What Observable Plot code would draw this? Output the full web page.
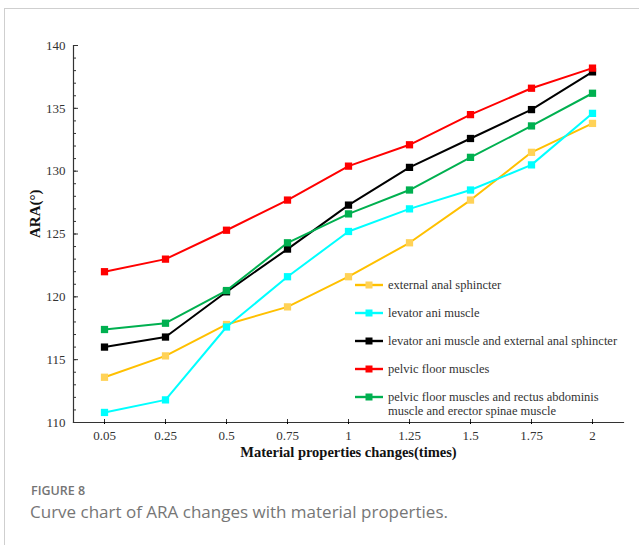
<!DOCTYPE html>
<html>
<head>
<meta charset="utf-8">
<script src="https://cdn.jsdelivr.net/npm/d3@7"></script>
<script src="https://cdn.jsdelivr.net/npm/@observablehq/plot@0.6"></script>
<style>
  html, body { margin: 0; padding: 0; background: #fff; }
  #wrap { position: relative; width: 639px; height: 545px; overflow: hidden; }
  #border { position: absolute; left: 4px; top: 8px; width: 700px; height: 600px;
            border-left: 1px solid #cfcfcf; border-top: 1px solid #cfcfcf; }
  #chart { position: absolute; left: 0; top: 0; }
  #chart svg text { font-family: "Liberation Serif", "Times New Roman", serif !important; }
  #legend { position: absolute; left: 355px; top: 0; font-family: "Liberation Serif", "Times New Roman", serif;
            font-size: 12.5px; color: #333; }
  .row { position: absolute; left: 0; white-space: nowrap; }
  .row svg { position: absolute; left: 0; }
  .row span { position: absolute; left: 33px; line-height: 14px; }
  #cap1 { position: absolute; left: 31px; top: 482px; font-family: "Open Sans", sans-serif; font-weight: 600;
          font-size: 12.5px; color: #747474; }
  #cap2 { position: absolute; left: 30px; top: 500px; font-family: "Open Sans", sans-serif; font-weight: 400;
          font-size: 17px; color: #767676; }
</style>
</head>
<body>
<div id="wrap">
  <div id="border"></div>
  <div id="chart"></div>
  <div id="legend"></div>
  <div id="cap1">FIGURE 8</div>
  <div id="cap2">Curve chart of ARA changes with material properties.</div>
</div>
<script>
// ---- data ----
const categories = ["0.05", "0.25", "0.5", "0.75", "1", "1.25", "1.5", "1.75", "2"];
const externalAnalSphincter = [113.6, 115.3, 117.8, 119.2, 121.6, 124.3, 127.7, 131.5, 133.8];
const levatorAniMuscle = [110.8, 111.8, 117.6, 121.6, 125.2, 127.0, 128.5, 130.5, 134.6];
const levatorAniAndExternal = [116.0, 116.8, 120.4, 123.8, 127.3, 130.3, 132.6, 134.9, 137.9];
const pelvicFloorMuscles = [122.0, 123.0, 125.3, 127.7, 130.4, 132.1, 134.5, 136.6, 138.2];
const pelvicFloorRectusErector = [117.4, 117.9, 120.5, 124.3, 126.6, 128.5, 131.1, 133.6, 136.2];
const seriesNames = [
  "external anal sphincter",
  "levator ani muscle",
  "levator ani muscle and external anal sphincter",
  "pelvic floor muscles",
  "pelvic floor muscles and rectus abdominis muscle and erector spinae muscle"
];
const legendLabels = [
  ["external anal sphincter"],
  ["levator ani muscle"],
  ["levator ani muscle and external anal sphincter"],
  ["pelvic floor muscles"],
  ["pelvic floor muscles and rectus abdominis", "muscle and erector spinae muscle"]
];
const lineColors = ["#ffc000", "#00ffff", "#000000", "#ff0000", "#00b050"];
const markerColors = ["#ffd257", "#00ffff", "#000000", "#ff0000", "#00b050"];
const yTicksMajor = [110, 115, 120, 125, 130, 135, 140];
const yTicksMinor = d3.range(110, 141, 1);
const xTitle = "Material properties changes(times)";
const yTitle = "ARA(°)";

const allValues = [externalAnalSphincter, levatorAniMuscle, levatorAniAndExternal, pelvicFloorMuscles, pelvicFloorRectusErector];
const tables = allValues.map((vals, s) => categories.map((c, i) => ({x: c, y: vals[i], series: seriesNames[s]})));

const serif = "Liberation Serif";

const marks = [
  Plot.frame({anchor: "left", stroke: "#333", strokeWidth: 1.2}),
  Plot.frame({anchor: "bottom", stroke: "#333", strokeWidth: 1.2}),
  Plot.axisY({ticks: yTicksMinor, tickSize: -3, tickFormat: () => "", label: null, stroke: "#333"}),
  Plot.axisY({ticks: yTicksMajor, tickSize: -5, tickFormat: () => "", label: null, stroke: "#333"}),
  Plot.axisY({ticks: yTicksMajor, tickSize: 0, tickPadding: 8, label: null, fontSize: 13, fill: "#333", fontFamily: serif}),
  Plot.axisX({tickSize: -3, tickFormat: () => "", label: null, stroke: "#333"}),
  Plot.axisX({tickSize: 2, tickPadding: 6, label: null, fontSize: 13, fill: "#333", fontFamily: serif}),
  Plot.text([xTitle], {text: d => d, frameAnchor: "bottom", dy: 34, fontWeight: "bold", fontSize: 14.5, fill: "#111", fontFamily: serif}),
  Plot.text([yTitle], {text: d => d, frameAnchor: "left", dx: -38, dy: 4, rotate: -90, fontWeight: "bold", fontSize: 15, fill: "#111", fontFamily: serif})
];
tables.forEach((t, s) => {
  marks.push(Plot.line(t, {x: "x", y: "y", stroke: lineColors[s], strokeWidth: 2}));
  marks.push(Plot.dot(t, {x: "x", y: "y", symbol: "square", r: 4.1, fill: markerColors[s], stroke: "none"}));
});

const chart = Plot.plot({
  width: 639,
  height: 465,
  marginLeft: 73,
  marginRight: 16,
  marginTop: 45,
  marginBottom: 43,
  style: {fontFamily: serif, background: "transparent", overflow: "visible"},
  x: {type: "point", domain: categories, padding: 0.5, axis: null},
  y: {domain: [110, 140], axis: null},
  marks
});
document.getElementById("chart").appendChild(chart);

// ---- legend (HTML overlay) ----
const legend = document.getElementById("legend");
const rowCenters = [284.5, 312.5, 340.5, 368.5, 396.5];
legendLabels.forEach((lines, s) => {
  const row = document.createElement("div");
  row.className = "row";
  row.style.top = (rowCenters[s] - 7) + "px";
  row.innerHTML = `<svg width="30" height="14"><line x1="0" x2="28" y1="7" y2="7" stroke="${lineColors[s]}" stroke-width="2.4"/>` +
    `<rect x="10.5" y="3.5" width="7" height="7" fill="${markerColors[s]}"/></svg>` +
    `<span>${lines.join("<br>")}</span>`;
  legend.appendChild(row);
});
</script>
</body>
</html>
